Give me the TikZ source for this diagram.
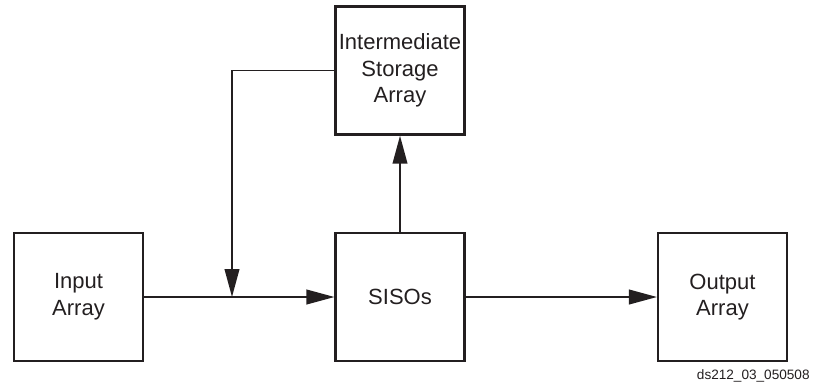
\documentclass[tikz,border=0pt]{standalone}
\usepackage{fontspec}
\setmainfont{Liberation Sans}
\usetikzlibrary{arrows.meta}
\definecolor{ink}{HTML}{231F20}

\begin{document}
\begin{tikzpicture}[x=0.75pt,y=-0.75pt,color=ink,line width=1.4pt]

      \useasboundingbox (0,0) rectangle (816,385);

      \begin{scope}[every node/.style={rectangle,draw,line width=1.8pt,minimum width=96.5pt,minimum height=96pt,inner sep=0pt,align=center,font=\fontsize{16.5}{20}\selectfont}]
        \node (input) at (78.5,297) {Input\\Array};
        \node (sisos) at (400,297) {SISOs};
        \node (output) at (722.5,297) {Output\\Array};
        \node (storage) at (400,70.5) {Intermediate\\Storage\\Array};
      \end{scope}

      \coordinate (join) at (232,297);

      \begin{scope}[every edge/.style={draw,-{Triangle[length=21pt,width=11pt]}}]
        \path (input) edge (sisos);
        \path (sisos) edge (output);
        \path (sisos) edge (storage);
        \path (storage.west) edge[to path={-| (\tikztotarget)}] (join);
      \end{scope}

      \node (tag) [anchor=base east,font=\fontsize{10.2}{12}\selectfont] at (815,379) {ds212\_03\_050508};

    \end{tikzpicture}
\end{document}
